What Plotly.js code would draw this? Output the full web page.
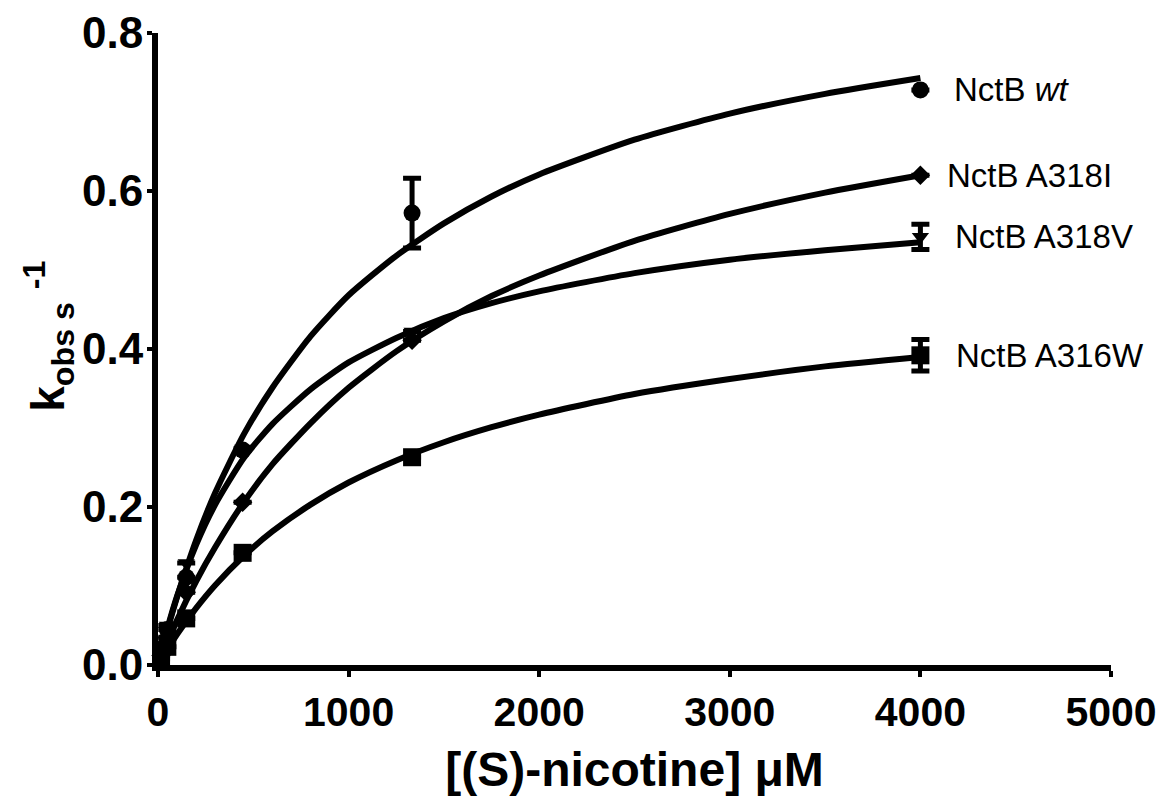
<!DOCTYPE html>
<html>
<head>
<meta charset="utf-8">
<script src="https://cdn.plot.ly/plotly-3.0.1.min.js"></script>
<style>
  html, body { margin: 0; padding: 0; background: #ffffff; }
  #chart { width: 1163px; height: 800px; }
</style>
</head>
<body>
<div id="chart"></div>
<script>
// Substrate concentrations (µM) and observed rates (s^-1)
const concentrations = [16, 49, 148, 444, 1333, 4000];

const wtRates    = [0.020, 0.045, 0.111, 0.272, 0.572, 0.728];
const a318iRates = [0.012, 0.035, 0.092, 0.206, 0.411, 0.620];
const a318vRates = [0.025, 0.050, 0.129, 0.274, 0.422, 0.542];
const a316wRates = [0.008, 0.023, 0.059, 0.142, 0.263, 0.392];

// Standard deviations (null where the bar is hidden under the marker)
const wtErr    = [null, null, null, null, 0.044, null];
const a318iErr = [null, null, null, null, null, null];
const a318vErr = [null, null, null, null, null, 0.016];
const a316wErr = [null, null, null, null, null, 0.020];

// Fitted saturation curves
const fitConc = [16, 50, 100, 200, 300, 450, 600, 800, 1000, 1250, 1500, 1750, 2000, 2500, 3000, 3500, 4000];
const wtFit    = [0.015, 0.045, 0.086, 0.158, 0.218, 0.292, 0.351, 0.416, 0.468, 0.518, 0.559, 0.593, 0.621, 0.665, 0.698, 0.723, 0.743];
const a318iFit = [0.010, 0.029, 0.057, 0.106, 0.149, 0.206, 0.254, 0.306, 0.351, 0.397, 0.435, 0.467, 0.493, 0.537, 0.571, 0.598, 0.620];
const a318vFit = [0.016, 0.047, 0.087, 0.152, 0.203, 0.262, 0.305, 0.349, 0.383, 0.414, 0.439, 0.458, 0.473, 0.496, 0.513, 0.525, 0.535];
const a316wFit = [0.007, 0.020, 0.039, 0.072, 0.101, 0.138, 0.169, 0.203, 0.231, 0.259, 0.282, 0.301, 0.317, 0.343, 0.362, 0.378, 0.390];

const seriesNames = ['NctB <i>wt</i>', 'NctB A318I', 'NctB A318V', 'NctB A316W'];
const symbols = ['circle', 'diamond', 'triangle-down', 'square'];
const markerSizes = [17, 15, 15, 18];
const labelShift = [32, 25, 33, 34];

const rates = [wtRates, a318iRates, a318vRates, a316wRates];
const errs = [wtErr, a318iErr, a318vErr, a316wErr];
const fits = [wtFit, a318iFit, a318vFit, a316wFit];

const traces = [];
const annotations = [];

for (let i = 0; i < rates.length; i++) {
  traces.push({
    x: fitConc, y: fits[i], type: 'scatter', mode: 'lines',
    line: { color: '#000', width: 6, shape: 'spline', smoothing: 0.6 },
    hoverinfo: 'skip', showlegend: false, cliponaxis: false
  });
  traces.push({
    x: concentrations, y: rates[i], type: 'scatter', mode: 'markers',
    marker: { symbol: symbols[i], size: markerSizes[i], color: '#000' },
    error_y: { type: 'data', array: errs[i], visible: true, color: '#000', thickness: 5, width: 9 },
    showlegend: false, cliponaxis: false
  });
  const last = concentrations.length - 1;
  annotations.push({
    x: concentrations[last], y: rates[i][last], xref: 'x', yref: 'y',
    text: seriesNames[i], showarrow: false, xanchor: 'left', yanchor: 'middle',
    xshift: labelShift[i],
    font: { family: 'Liberation Sans, Arial, sans-serif', size: 33, color: '#000' }
  });
}

// Y-axis title drawn as a rotated annotation
annotations.push({
  xref: 'paper', yref: 'paper', x: -0.115, y: 0.52,
  text: 'k<sub>obs s</sub> <sup>-1</sup>', showarrow: false, textangle: -90,
  xanchor: 'center', yanchor: 'middle',
  font: { family: 'Liberation Sans, Arial, sans-serif', size: 46, color: '#000', weight: 'bold' }
});

const layout = {
  width: 1163, height: 800,
  margin: { l: 158, r: 52, t: 33, b: 135 },
  paper_bgcolor: '#fff', plot_bgcolor: '#fff',
  showlegend: false,
  xaxis: {
    range: [0, 5000], tickvals: [0, 1000, 2000, 3000, 4000, 5000],
    showline: true, linecolor: '#000', linewidth: 6,
    ticks: 'outside', ticklen: 6, tickwidth: 4, tickcolor: '#000',
    showgrid: false, zeroline: false,
    tickfont: { family: 'Liberation Sans, Arial, sans-serif', size: 41, color: '#000', weight: 'bold' },
    title: {
      text: '[(S)-nicotine] μM', standoff: 20,
      font: { family: 'Liberation Sans, Arial, sans-serif', size: 48, color: '#000', weight: 'bold' }
    }
  },
  yaxis: {
    range: [0, 0.8], tickvals: [0, 0.2, 0.4, 0.6, 0.8], tickformat: '.1f',
    showline: true, linecolor: '#000', linewidth: 6,
    ticks: 'outside', ticklen: 5, tickwidth: 4, tickcolor: '#000',
    ticklabelstandoff: -5,
    showgrid: false, zeroline: false,
    tickfont: { family: 'Liberation Sans, Arial, sans-serif', size: 44, color: '#000', weight: 'bold' }
  },
  annotations: annotations
};

Plotly.newPlot('chart', traces, layout, { displayModeBar: false, staticPlot: true });
</script>
</body>
</html>
